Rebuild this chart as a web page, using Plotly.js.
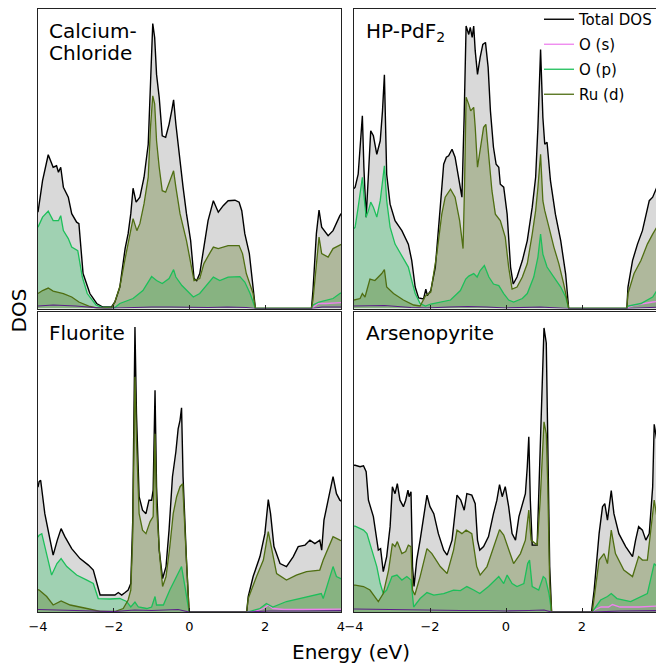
<!DOCTYPE html>
<html>
<head>
<meta charset="utf-8">
<script src="https://cdn.plot.ly/plotly-3.0.1.min.js"></script>
<style>
html, body { margin:0; padding:0; overflow:hidden; background:#fff; }
#chart { width:662px; height:666px; }
</style>
</head>
<body>
<div id="chart"></div>
<script>
// ---------- DATA ----------
const panelTitles = ["Calcium-<br>Chloride", "HP-PdF<sub>2</sub>", "Fluorite", "Arsenopyrite"];
const seriesNames = ["Total DOS", "O (s)", "O (p)", "Ru (d)"];
const tickVals = [-4, -2, 0, 2, 4];

// Calcium-Chloride
const cc_tot_E = [-4.0,-3.88,-3.73,-3.60,-3.51,-3.46,-3.40,-3.33,-3.20,-3.11,-2.98,-2.92,-2.81,-2.63,-2.45,-2.29,-2.06,-1.97,-1.84,-1.70,-1.62,-1.55,-1.49,-1.41,-1.31,-1.20,-1.09,-1.03,-0.97,-0.92,-0.87,-0.80,-0.72,-0.63,-0.54,-0.47,-0.42,-0.36,-0.25,-0.17,-0.08,0.03,0.12,0.19,0.27,0.38,0.49,0.63,0.76,0.89,1.02,1.20,1.31,1.38,1.46,1.58,1.68,1.74,3.22,3.26,3.35,3.42,3.49,3.66,3.79,3.97,4.05];
const cc_tot   = [1.93,2.56,3.08,2.83,2.86,2.73,2.83,2.43,2.23,1.9,1.73,1.7,0.7,0.3,0.1,0.03,0.03,0.13,0.43,1.2,1.5,1.9,2.41,2.13,2.23,2.63,3.29,4.69,5.71,5.43,4.69,4.23,3.46,3.43,3.69,3.96,4.18,3.69,2.89,2.43,1.9,1.36,0.6,0.56,0.7,1.23,1.76,2.16,1.93,2.06,2.16,2.17,2.13,1.96,1.5,1.1,0.43,0,0,0.36,1.5,1.97,1.63,1.46,1.56,1.86,1.95];
const cc_op_E  = [-4.0,-3.88,-3.73,-3.60,-3.46,-3.40,-3.33,-3.20,-3.11,-2.95,-2.83,-2.70,-2.47,-2.29,-1.97,-1.84,-1.49,-1.23,-1.0,-0.87,-0.72,-0.54,-0.42,-0.36,-0.2,-0.08,0.1,0.27,0.49,0.63,0.8,1.02,1.33,1.46,1.6,1.74,3.22,3.26,3.42,3.79,3.97,4.05];
const cc_op    = [1.63,1.83,1.95,1.76,1.76,1.86,1.56,1.4,1.23,1.16,0.63,0.3,0.07,0.02,0.02,0.1,0.2,0.36,0.64,0.56,0.5,0.6,0.78,0.63,0.46,0.36,0.23,0.3,0.5,0.63,0.56,0.63,0.64,0.53,0.3,0,0,0.07,0.13,0.2,0.3,0.33];
const cc_rud_E = [-4.0,-3.88,-3.73,-3.60,-3.33,-3.11,-2.92,-2.66,-2.45,-2.06,-1.97,-1.84,-1.70,-1.55,-1.49,-1.39,-1.31,-1.20,-1.09,-1.03,-0.97,-0.92,-0.87,-0.80,-0.72,-0.63,-0.54,-0.42,-0.36,-0.25,-0.08,0.03,0.12,0.27,0.38,0.55,0.63,0.76,1.02,1.31,1.40,1.50,1.68,1.74,3.22,3.26,3.37,3.42,3.49,3.66,3.79,3.97,4.05];
const cc_rud   = [0.3,0.36,0.41,0.35,0.3,0.23,0.13,0.05,0.01,0.01,0.13,0.43,1.0,1.63,1.8,1.56,1.7,2.1,2.63,3.63,4.26,4.1,3.36,2.83,2.36,2.33,2.5,2.76,2.43,1.9,1.36,0.9,0.56,0.6,0.9,1.13,1.23,1.2,1.26,1.26,1.1,0.7,0.3,0,0,0.17,0.96,1.43,1.1,1.03,1.2,1.26,1.3];
const cc_os_E  = [3.22,3.3,3.4,3.6,3.8,4.05];
const cc_os    = [0,0.05,0.1,0.1,0.11,0.12];
const cc_rus_E = [-4,-3.6,-3.0,-2.5,-2.2,-1.9,-1.5,-1.0,-0.5,0.0,0.5,1.0,1.5,1.74,3.22,3.5,4.05];
const cc_rus   = [0.05,0.07,0.05,0.02,0.0,0.01,0.02,0.03,0.03,0.02,0.02,0.03,0.02,0,0,0.03,0.03];

// HP-PdF2
const hp_tot_E = [-4.0,-3.97,-3.89,-3.82,-3.78,-3.74,-3.68,-3.62,-3.56,-3.49,-3.40,-3.31,-3.25,-3.20,-3.14,-3.05,-2.92,-2.74,-2.57,-2.48,-2.39,-2.30,-2.17,-2.11,-2.07,-1.98,-1.86,-1.73,-1.64,-1.57,-1.51,-1.42,-1.34,-1.25,-1.16,-1.10,-1.05,-0.98,-0.94,-0.89,-0.85,-0.81,-0.75,-0.68,-0.61,-0.54,-0.47,-0.41,-0.33,-0.26,-0.19,-0.15,-0.06,0.03,0.12,0.19,0.29,0.43,0.56,0.69,0.78,0.84,0.91,0.97,1.02,1.08,1.17,1.30,1.44,1.57,1.65,3.18,3.21,3.33,3.46,3.59,3.68,3.77,3.86,3.97,4.1];
const hp_tot   = [2.4,2.43,2.69,3.36,3.86,2.83,1.83,2.69,3.56,3.46,3.09,3.36,3.96,4.68,2.69,2.09,1.76,1.56,1.29,0.96,0.43,0.21,0.19,0.39,0.26,0.36,0.83,2.03,2.89,3.03,3.06,3.19,3.03,2.63,2.23,3.89,5.66,5.49,5.63,5.43,5.66,5.16,4.69,5.03,5.29,5.33,4.83,3.96,3.23,2.89,2.83,2.49,2.43,1.89,0.83,0.49,0.63,0.96,1.36,2.03,2.63,3.63,5.19,3.83,3.29,3.33,2.56,1.89,1.36,0.69,0,0,0.43,0.96,1.29,1.56,1.83,2.16,2.23,2.43,2.55];
const hp_op_E  = [-4.0,-3.97,-3.89,-3.82,-3.78,-3.74,-3.68,-3.62,-3.56,-3.49,-3.40,-3.31,-3.25,-3.20,-3.14,-3.05,-2.92,-2.74,-2.57,-2.48,-2.39,-2.26,-2.12,-1.98,-1.73,-1.46,-1.20,-1.06,-0.98,-0.85,-0.76,-0.68,-0.57,-0.45,-0.33,-0.19,-0.06,0.07,0.2,0.43,0.56,0.73,0.84,0.91,0.97,1.08,1.26,1.44,1.57,1.65,3.18,3.21,3.55,3.86,3.97,4.1];
const hp_op    = [1.6,1.63,2.03,2.49,2.63,2.29,1.83,1.96,2.13,2.03,1.83,2.16,2.49,2.86,2.16,1.63,1.29,1.06,0.83,0.56,0.3,0.1,0.05,0.09,0.13,0.17,0.36,0.59,0.65,0.7,0.63,0.76,0.86,0.63,0.49,0.46,0.3,0.17,0.13,0.2,0.3,0.63,1.03,1.49,1.09,0.83,0.63,0.43,0.23,0,0,0.05,0.1,0.23,0.36,0.4];
const hp_rud_E = [-4.0,-3.84,-3.78,-3.71,-3.58,-3.45,-3.27,-3.20,-3.14,-2.96,-2.70,-2.43,-2.26,-2.12,-1.98,-1.82,-1.69,-1.60,-1.46,-1.34,-1.22,-1.13,-1.09,-1.05,-0.98,-0.93,-0.85,-0.81,-0.75,-0.68,-0.59,-0.53,-0.46,-0.37,-0.28,-0.15,-0.02,0.07,0.16,0.29,0.43,0.56,0.69,0.78,0.84,0.91,0.97,1.02,1.13,1.26,1.39,1.52,1.65,3.18,3.21,3.37,3.55,3.72,3.86,3.97,4.1];
const hp_rud   = [0.17,0.2,0.3,0.23,0.59,0.56,0.7,0.78,0.43,0.3,0.17,0.07,0.05,0.25,0.33,1.1,1.89,2.23,2.39,2.23,1.76,1.2,2.49,4.23,4.09,3.96,4.03,3.63,2.83,3.16,3.63,3.69,3.16,2.36,1.89,1.76,1.43,0.83,0.39,0.43,0.63,0.9,1.49,1.96,2.43,3.09,2.16,1.96,1.63,1.23,0.9,0.49,0,0,0.3,0.7,0.96,1.29,1.49,1.63,1.7];
const hp_os_E  = [3.18,3.25,3.4,3.6,3.86,4.1];
const hp_os    = [0,0.03,0.07,0.1,0.13,0.15];
const hp_rus_E = [-4,-3.2,-2.5,-2.1,-1.5,-1.0,-0.5,0,0.9,1.65,3.18,3.6,4.1];
const hp_rus   = [0.05,0.06,0.02,0.01,0.03,0.04,0.03,0.01,0.03,0,0,0.02,0.03];

// Fluorite
const fl_tot_E = [-4.0,-3.97,-3.93,-3.82,-3.68,-3.60,-3.49,-3.39,-3.29,-3.11,-2.89,-2.67,-2.54,-2.45,-2.36,-2.10,-1.97,-1.88,-1.79,-1.70,-1.62,-1.55,-1.50,-1.44,-1.40,-1.33,-1.24,-1.15,-1.07,-1.00,-0.96,-0.91,-0.87,-0.80,-0.71,-0.62,-0.54,-0.45,-0.36,-0.30,-0.25,-0.21,-0.17,-0.08,-0.01,1.51,1.55,1.68,1.86,1.99,2.08,2.14,2.23,2.39,2.56,2.74,2.87,3.05,3.18,3.31,3.44,3.49,3.55,3.66,3.79,3.88,3.97,4.05];
const fl_tot   = [2.5,2.61,2.64,1.97,1.44,1.14,1.44,1.67,1.51,1.27,1.07,0.94,0.84,0.57,0.34,0.34,0.34,0.39,0.34,0.39,0.44,0.57,1.8,5.71,3.97,2.31,2.04,1.97,2.24,2.24,2.44,4.44,2.51,1.24,0.67,0.91,1.64,2.71,3.21,3.67,3.84,4.09,2.71,1.04,0,0,0.31,0.71,1.11,1.57,2.25,1.97,1.31,0.97,0.91,1.11,1.31,1.34,1.44,1.37,1.44,1.24,1.84,2.24,2.71,2.37,2.24,2.2];
const fl_op_E  = [-4.0,-3.97,-3.90,-3.77,-3.64,-3.50,-3.39,-3.24,-2.98,-2.71,-2.54,-2.41,-2.10,-1.84,-1.66,-1.55,-1.44,-1.35,-1.13,-1.00,-0.91,-0.87,-0.69,-0.52,-0.34,-0.21,-0.12,-0.01,1.55,1.86,2.03,2.20,2.56,2.90,3.27,3.48,3.53,3.66,3.79,3.88,3.97,4.05];
const fl_op    = [1.5,1.54,1.57,1.17,0.74,0.97,1.07,0.91,0.74,0.64,0.57,0.27,0.26,0.27,0.21,0.1,0.2,0.1,0.07,0.1,0.31,0.14,0.14,0.44,0.71,0.91,0.51,0,0,0.07,0.17,0.1,0.21,0.27,0.32,0.37,0.27,0.57,0.91,0.71,0.67,0.65];
const fl_rud_E = [-4.0,-3.97,-3.77,-3.60,-3.39,-3.15,-2.71,-2.36,-1.97,-1.75,-1.62,-1.55,-1.50,-1.44,-1.40,-1.33,-1.24,-1.15,-1.04,-0.96,-0.91,-0.87,-0.78,-0.71,-0.62,-0.52,-0.43,-0.34,-0.25,-0.18,-0.09,-0.01,1.51,1.55,1.77,1.95,2.08,2.16,2.30,2.56,2.82,3.09,3.44,3.53,3.66,3.79,3.97,4.05];
const fl_rud   = [0.45,0.44,0.31,0.14,0.22,0.14,0.07,0.01,0.01,0.07,0.24,0.44,1.5,4.71,3.44,1.97,1.64,1.57,1.81,1.91,3.57,2.11,1.07,0.51,0.71,1.31,1.97,2.31,2.51,2.57,1.17,0,0,0.27,0.71,1.04,1.61,1.31,0.77,0.64,0.74,0.81,0.84,1.04,1.27,1.51,1.44,1.42];
const fl_os_E  = [1.51,1.8,1.95,2.08,2.2,2.5,3.0,3.5,4.05];
const fl_os    = [0,0.03,0.07,0.14,0.07,0.05,0.05,0.05,0.06];
const fl_rus_E = [-4,-3.4,-2.5,-2.0,-1.45,-1.0,-0.3,-0.01,1.51,2.1,3.0,4.05];
const fl_rus   = [0.05,0.04,0.02,0.01,0.04,0.03,0.05,0,0,0.02,0.02,0.03];

// Arsenopyrite
const as_tot_E = [-4.0,-3.97,-3.84,-3.75,-3.68,-3.62,-3.49,-3.36,-3.30,-3.23,-3.14,-3.05,-2.99,-2.92,-2.86,-2.79,-2.70,-2.64,-2.58,-2.55,-2.50,-2.46,-2.42,-2.35,-2.26,-2.17,-2.08,-2.00,-1.90,-1.78,-1.64,-1.55,-1.42,-1.29,-1.19,-1.10,-1.03,-0.90,-0.81,-0.75,-0.69,-0.59,-0.46,-0.33,-0.24,-0.17,-0.10,-0.02,0.07,0.16,0.25,0.34,0.43,0.51,0.56,0.60,0.64,0.69,0.82,0.86,0.93,1.00,1.06,1.10,1.15,1.20,2.25,2.32,2.45,2.54,2.60,2.67,2.77,2.84,2.97,3.15,3.33,3.41,3.49,3.59,3.68,3.77,3.86,3.90,3.97,4.05];
const as_tot   = [2.94,2.94,2.91,2.93,2.81,2.24,1.91,1.24,1.27,0.81,1.11,1.71,2.51,2.37,2.57,2.24,2.11,2.24,2.44,2.31,2.41,0.91,0.51,1.04,1.44,1.91,2.34,2.11,1.97,1.57,1.24,1.14,1.44,2.34,2.24,2.04,2.37,2.34,2.17,1.44,1.24,1.31,1.51,1.97,2.24,2.55,2.31,2.51,2.11,1.57,1.44,1.91,2.17,2.37,2.91,3.51,2.24,1.34,1.34,2.24,4.24,5.69,5.39,3.57,0.91,0,0,0.44,1.57,2.11,2.17,1.84,2.43,1.97,1.57,1.31,1.11,1.44,1.71,1.64,1.44,1.57,2.51,3.76,3.44,3.2];
const as_op_E  = [-4.0,-3.97,-3.75,-3.66,-3.53,-3.40,-3.31,-3.23,-3.14,-3.00,-2.87,-2.74,-2.61,-2.50,-2.43,-2.26,-2.08,-1.90,-1.64,-1.38,-1.20,-1.03,-0.85,-0.69,-0.46,-0.19,-0.06,0.03,0.16,0.29,0.47,0.57,0.62,0.69,0.86,0.98,1.04,1.13,1.20,2.27,2.49,2.67,2.77,2.92,3.28,3.55,3.72,3.90,3.97,4.05];
const as_op    = [1.72,1.72,1.64,1.57,1.24,0.91,0.57,0.37,0.44,0.71,0.74,0.64,0.71,0.64,0.1,0.27,0.39,0.34,0.37,0.44,0.43,0.51,0.44,0.37,0.51,0.71,0.57,0.74,0.57,0.51,0.57,0.97,1.04,0.51,0.44,0.71,0.67,0.37,0,0,0.24,0.31,0.37,0.27,0.21,0.31,0.37,0.97,0.91,0.85];
const as_rud_E = [-4.0,-3.97,-3.75,-3.58,-3.36,-3.23,-3.09,-2.99,-2.92,-2.86,-2.74,-2.64,-2.57,-2.50,-2.46,-2.40,-2.26,-2.08,-1.95,-1.73,-1.55,-1.38,-1.29,-1.16,-1.05,-0.90,-0.77,-0.68,-0.50,-0.33,-0.24,-0.17,-0.06,0.07,0.20,0.38,0.51,0.60,0.66,0.82,0.90,1.00,1.06,1.10,1.15,1.20,2.27,2.45,2.58,2.67,2.77,2.88,3.10,3.33,3.49,3.59,3.72,3.90,3.97,4.05];
const as_rud   = [0.54,0.54,0.51,0.44,0.21,0.37,0.84,1.37,1.31,1.41,1.17,1.21,1.34,1.31,0.44,0.34,0.71,1.27,1.17,0.91,0.77,1.24,1.64,1.57,1.64,1.57,0.91,0.74,0.91,1.31,1.51,1.65,1.54,1.24,0.97,1.17,1.44,2.04,1.44,1.34,2.24,3.81,3.57,2.51,0.57,0,0,1.04,1.17,0.97,1.64,1.17,0.84,0.71,1.11,1.04,1.04,2.24,1.91,1.8];
const as_os_E  = [2.25,2.35,2.5,2.7,2.8,3.0,3.5,4.05];
const as_os    = [0,0.05,0.1,0.1,0.15,0.1,0.1,0.12];
const as_rus_E = [-4,-3.3,-2.5,-2.0,-1.2,-0.5,0.0,0.6,1.0,1.2,2.25,3.0,4.05];
const as_rus   = [0.06,0.05,0.05,0.03,0.03,0.03,0.02,0.03,0.04,0,0,0.02,0.03];

// ---------- STYLE ----------
const colTot = '#000000', fillTot = 'rgba(128,128,128,0.3)';
const colOs  = '#ee82ee', fillOs  = 'rgba(238,130,238,0.3)';
const colOp  = '#1dbf5a', fillOp  = 'rgba(29,191,90,0.3)';
const colRu  = '#4f6e12', fillRu  = 'rgba(79,110,18,0.3)';
const colRuS = '#5b1f87';

const panels = [
  {tot:[cc_tot_E,cc_tot], os:[cc_os_E,cc_os], op:[cc_op_E,cc_op], ru:[cc_rud_E,cc_rud], rs:[cc_rus_E,cc_rus], xa:'x',  ya:'y'},
  {tot:[hp_tot_E,hp_tot], os:[hp_os_E,hp_os], op:[hp_op_E,hp_op], ru:[hp_rud_E,hp_rud], rs:[hp_rus_E,hp_rus], xa:'x2', ya:'y2'},
  {tot:[fl_tot_E,fl_tot], os:[fl_os_E,fl_os], op:[fl_op_E,fl_op], ru:[fl_rud_E,fl_rud], rs:[fl_rus_E,fl_rus], xa:'x3', ya:'y3'},
  {tot:[as_tot_E,as_tot], os:[as_os_E,as_os], op:[as_op_E,as_op], ru:[as_rud_E,as_rud], rs:[as_rus_E,as_rus], xa:'x4', ya:'y4'}
];

const traces = [];
panels.forEach((p, i) => {
  const defs = [
    [p.tot, colTot, fillTot, seriesNames[0], 1.4],
    [p.os,  colOs,  fillOs,  seriesNames[1], 1.3],
    [p.op,  colOp,  fillOp,  seriesNames[2], 1.3],
    [p.ru,  colRu,  fillRu,  seriesNames[3], 1.3]
  ];
  defs.forEach(d => {
    traces.push({x:d[0][0], y:d[0][1], xaxis:p.xa, yaxis:p.ya, type:'scatter', mode:'lines',
      fill:'tozeroy', fillcolor:d[2], line:{width:0, color:d[1]}, showlegend:false, hoverinfo:'skip'});
  });
  defs.forEach((d, k) => {
    traces.push({x:d[0][0], y:d[0][1], xaxis:p.xa, yaxis:p.ya, type:'scatter', mode:'lines',
      name:d[3], legendgroup:'g'+k, showlegend:(i===0), line:{width:d[4], color:d[1]}, hoverinfo:'skip'});
  });
  traces.push({x:p.rs[0], y:p.rs[1], xaxis:p.xa, yaxis:p.ya, type:'scatter', mode:'lines',
    name:'Ru (s)', showlegend:false, line:{width:1.2, color:colRuS}, hoverinfo:'skip'});
});

const font = 'DejaVu Sans, Verdana, sans-serif';
function xax(domain, anchor, labels) {
  return {domain:domain, anchor:anchor, range:[-4,4], tickvals:tickVals, ticks:'inside', ticklen:4,
    tickcolor:'#222', tickwidth:1, showline:true, mirror:true, linecolor:'#222', linewidth:1.2,
    showgrid:false, zeroline:false, showticklabels:labels, ticklabelstandoff:2,
    tickfont:{family:font, size:13, color:'#000'}};
}
function yax(domain, anchor) {
  return {domain:domain, anchor:anchor, range:[0,6], showticklabels:false, ticks:'', showline:true,
    mirror:true, linecolor:'#222', linewidth:1.2, showgrid:false, zeroline:false};
}
const W = 620, H = 604, L = 38, T = 8;
const px = v => (v - L) / W;
const py = v => (T + H - v) / H;

const xL = [0, px(341)], xR = [px(354), 1];
const yT = [py(308), 1], yB = [0, py(312)];

const titleFont = {family:font, size:20, color:'#000'};
const annotations = [
  {text:'Calcium-', x:px(47), y:py(30), xref:'paper', yref:'paper', xanchor:'left', yanchor:'middle', showarrow:false, font:titleFont},
  {text:'Chloride', x:px(47), y:py(52), xref:'paper', yref:'paper', xanchor:'left', yanchor:'middle', showarrow:false, font:titleFont},
  {text:panelTitles[1], x:px(364), y:py(31), xref:'paper', yref:'paper', xanchor:'left', yanchor:'middle', showarrow:false, font:titleFont},
  {text:panelTitles[2], x:px(47), y:py(333), xref:'paper', yref:'paper', xanchor:'left', yanchor:'middle', showarrow:false, font:titleFont},
  {text:panelTitles[3], x:px(364), y:py(333), xref:'paper', yref:'paper', xanchor:'left', yanchor:'middle', showarrow:false, font:titleFont},
  {text:'DOS', x:px(18), y:py(310), xref:'paper', yref:'paper', xanchor:'center', yanchor:'middle', textangle:-90, showarrow:false, font:titleFont},
  {text:'Energy (eV)', x:px(351), y:py(652), xref:'paper', yref:'paper', xanchor:'center', yanchor:'middle', showarrow:false, font:titleFont}
];

const layout = {
  width:662, height:666,
  margin:{l:L, r:4, t:T, b:54, pad:0},
  paper_bgcolor:'#fff', plot_bgcolor:'#fff',
  showlegend:true,
  legend:{x:px(539), y:py(3), xanchor:'left', yanchor:'top', bgcolor:'rgba(255,255,255,0)', borderwidth:0,
    font:{family:font, size:15, color:'#000'}, tracegroupgap:2.5, itemwidth:30},
  xaxis:xax(xL,'y',false),  yaxis:yax(yT,'x'),
  xaxis2:xax(xR,'y2',false), yaxis2:yax(yT,'x2'),
  xaxis3:xax(xL,'y3',true),  yaxis3:yax(yB,'x3'),
  xaxis4:xax(xR,'y4',true),  yaxis4:yax(yB,'x4'),
  annotations:annotations
};

Plotly.newPlot('chart', traces, layout, {staticPlot:true, displayModeBar:false});
</script>
</body>
</html>
